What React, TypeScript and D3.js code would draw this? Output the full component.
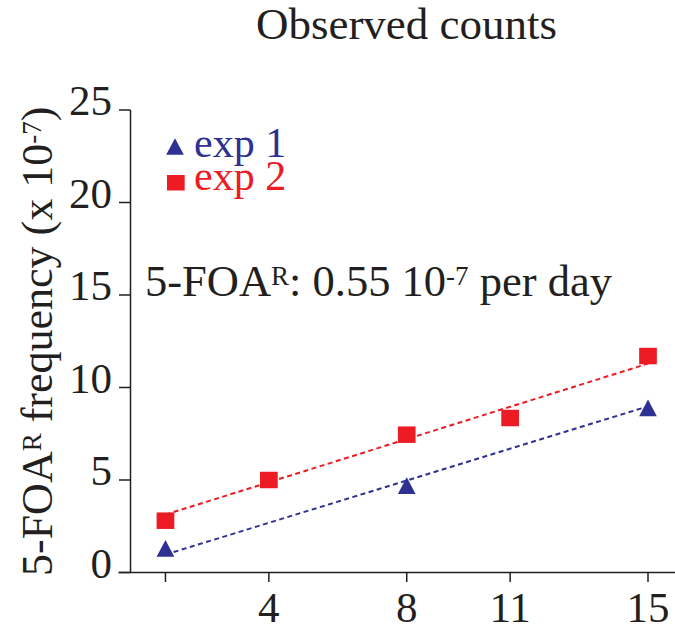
import React from 'react';
import * as d3 from 'd3';

// ---- data ----
const exp1Days = [1, 8, 15];
const exp1Values = [1.3, 4.7, 8.9];
const exp2Days = [1, 4, 8, 11, 15];
const exp2Values = [2.8, 5.0, 7.45, 8.35, 11.7];
const fitDays = [1, 15];
const exp1Fit = [0.97, 8.98];
const exp2Fit = [3.13, 11.29];
const xTicks = [1, 4, 8, 11, 15];
const xTickLabels = ['', '4', '8', '11', '15'];
const yTicks = [0, 5, 10, 15, 20, 25];
const seriesNames = ['exp 1', 'exp 2'];
const titleText = 'Observed counts';

const W = 675;
const H = 630;
const BLUE = '#2e3192';
const RED = '#ed1c24';
const INK = '#231f20';
const FONT = '"Liberation Serif", "Times New Roman", serif';

const x = d3.scaleLinear().domain([0, 15]).range([131, 648]);
const y = d3.scaleLinear().domain([0, 25]).range([572.5, 110]);

const TRI_W = 17.7;
const TRI_H = 16.7;
const SQ_W = 17.7;
const SQ_H = 16.5;

function triPath(cx: number, cy: number) {
  const p = d3.path();
  p.moveTo(cx, cy - TRI_H / 2);
  p.lineTo(cx + TRI_W / 2, cy + TRI_H / 2);
  p.lineTo(cx - TRI_W / 2, cy + TRI_H / 2);
  p.closePath();
  return p.toString();
}

export default function App() {
  const line = d3
    .line<number>()
    .x((_, i) => x(fitDays[i]))
    .y((d) => y(d));

  const axisX0 = x(0) - 0.5;
  const axisY0 = y(0);

  return (
    <svg
      width={W}
      height={H}
      viewBox={`0 0 ${W} ${H}`}
      style={{ position: 'absolute', left: 0, top: 0, background: '#fff' }}
      fontFamily={FONT}
    >
      <rect x={0} y={0} width={W} height={H} fill="#fff" />
      {/* title */}
      <text x={406.5} y={39} fontSize={45} textAnchor="middle" fill={INK}>
        {titleText}
      </text>

      {/* y axis */}
      <line x1={axisX0} x2={axisX0} y1={y(25)} y2={axisY0} stroke={INK} strokeWidth={1.5} />
      {yTicks.map((t) => (
        <g key={'yt' + t}>
          <line x1={axisX0 - 11.5} x2={axisX0} y1={y(t)} y2={y(t)} stroke={INK} strokeWidth={1.5} />
          <text x={112} y={y(t) + 5} fontSize={43} textAnchor="end" fill={INK}>
            {t}
          </text>
        </g>
      ))}

      {/* x axis */}
      <line x1={axisX0 - 12} x2={W} y1={axisY0} y2={axisY0} stroke={INK} strokeWidth={1.5} />
      {xTicks.map((t, i) => (
        <g key={'xt' + t}>
          <line x1={x(t)} x2={x(t)} y1={axisY0} y2={axisY0 + 9.5} stroke={INK} strokeWidth={1.5} />
          <text x={x(t)} y={622} fontSize={43} textAnchor="middle" fill={INK}>
            {xTickLabels[i]}
          </text>
        </g>
      ))}

      {/* y axis label */}
      <text
        transform={`translate(52, 576) rotate(-90)`}
        x={0}
        y={0}
        fontSize={44}
        textAnchor="start"
        fill={INK}
      >
        <tspan>5-FOA</tspan>
        <tspan fontSize={27} dy={-11}>R</tspan>
        <tspan dy={11}> frequency (x 10</tspan>
        <tspan fontSize={27} dy={-11}>-7</tspan>
        <tspan dy={11}>)</tspan>
      </text>

      {/* fit lines */}
      <path d={line(exp2Fit) || ''} fill="none" stroke={RED} strokeWidth={2} strokeDasharray="5 3.5" />
      <path d={line(exp1Fit) || ''} fill="none" stroke={BLUE} strokeWidth={2} strokeDasharray="5 3.5" />

      {/* markers */}
      {exp2Days.map((d, i) => (
        <rect
          key={'s' + i}
          x={x(d) - SQ_W / 2}
          y={y(exp2Values[i]) - SQ_H / 2}
          width={SQ_W}
          height={SQ_H}
          fill={RED}
        />
      ))}
      {exp1Days.map((d, i) => (
        <path key={'t' + i} d={triPath(x(d), y(exp1Values[i]))} fill={BLUE} />
      ))}

      {/* legend */}
      <path d={triPath(175, 146.5)} fill={BLUE} />
      <text x={194} y={157} fontSize={42} fill={BLUE}>
        {seriesNames[0]}
      </text>
      <rect x={167} y={175} width={SQ_W} height={15.5} fill={RED} />
      <text x={194} y={190} fontSize={42} fill={RED}>
        {seriesNames[1]}
      </text>

      {/* annotation */}
      <text x={145} y={296} fontSize={44.5} fill={INK}>
        <tspan>5-FOA</tspan>
        <tspan fontSize={27} dy={-11}>R</tspan>
        <tspan dy={11}>: 0.55 10</tspan>
        <tspan fontSize={27} dy={-11}>-7</tspan>
        <tspan dy={11}> per day</tspan>
      </text>
    </svg>
  );
}
